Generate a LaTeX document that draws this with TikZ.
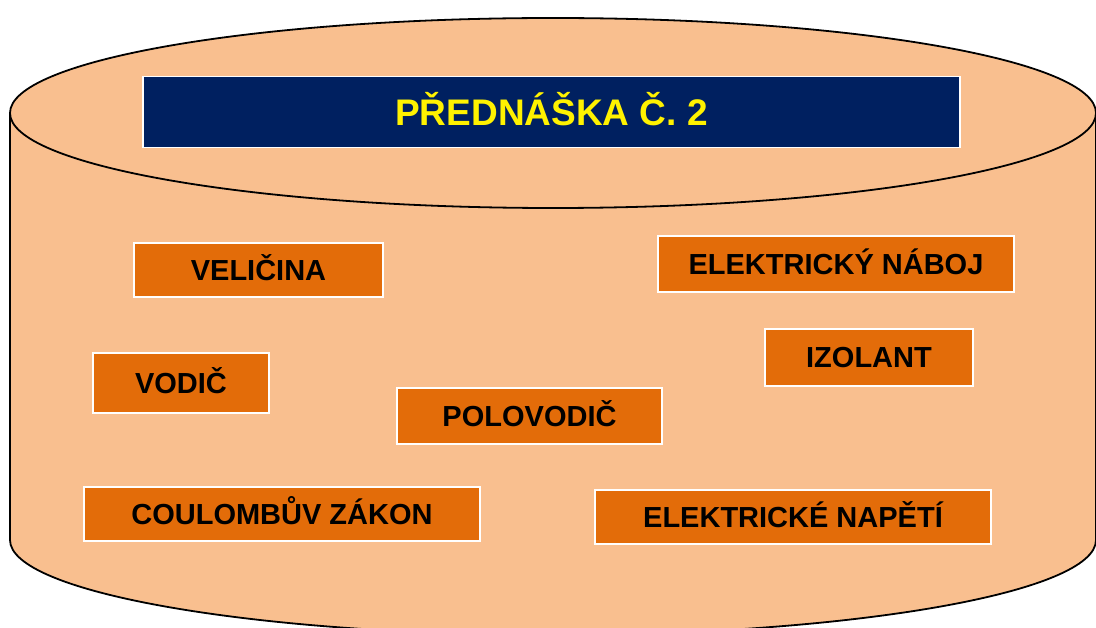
\documentclass[tikz,border=0pt]{standalone}
\usepackage{fontspec}
\setmainfont{Liberation Sans}
\definecolor{peach}{HTML}{F9BF8F}
\definecolor{rust}{HTML}{E36C09}
\definecolor{navy}{HTML}{002060}

\begin{document}
\begin{tikzpicture}[x=1pt,y=-1pt,
    topic/.style={draw=white, line width=1.5pt, fill=rust, text=black,
        font=\fontsize{29}{32}\selectfont\bfseries, inner sep=0pt,
        text height=21pt, text depth=0pt},
    heading/.style={draw=white, line width=1.5pt, fill=navy, text=yellow,
        font=\fontsize{37}{40}\selectfont\bfseries, inner sep=0pt,
        text height=26.5pt, text depth=0pt}]

\useasboundingbox (0,0) rectangle (1096,628);
\clip (0,0) rectangle (1096,628);

\coordinate (top) at (553,113);

% cylinder
\filldraw[fill=peach, draw=black, line width=1.8pt]
    (10,113) -- (10,540) arc[start angle=180, end angle=0, x radius=543, y radius=95]
    -- (1096,113) -- cycle;
\filldraw[fill=peach, draw=black, line width=1.8pt]
    (top) ellipse [x radius=543, y radius=95];

\node[heading, minimum width=817, minimum height=71] (title) at (551.5,112) {PŘEDNÁŠKA Č. 2};

\foreach \name/\px/\py/\w/\h/\txt in {
    velicina/258.5/270/249/54/VELIČINA,
    vodic/181/383/176/60/VODIČ,
    polovodic/529.5/416/265/56/POLOVODIČ,
    naboj/836/264/356/56/ELEKTRICKÝ NÁBOJ,
    izolant/869/357.5/208/57/IZOLANT,
    coulomb/282/514/396/54/COULOMBŮV ZÁKON,
    napeti/793/517/396/54/ELEKTRICKÉ NAPĚTÍ}
    \node[topic, minimum width=\w, minimum height=\h] (\name) at (\px,\py) {\txt};

\end{tikzpicture}
\end{document}
